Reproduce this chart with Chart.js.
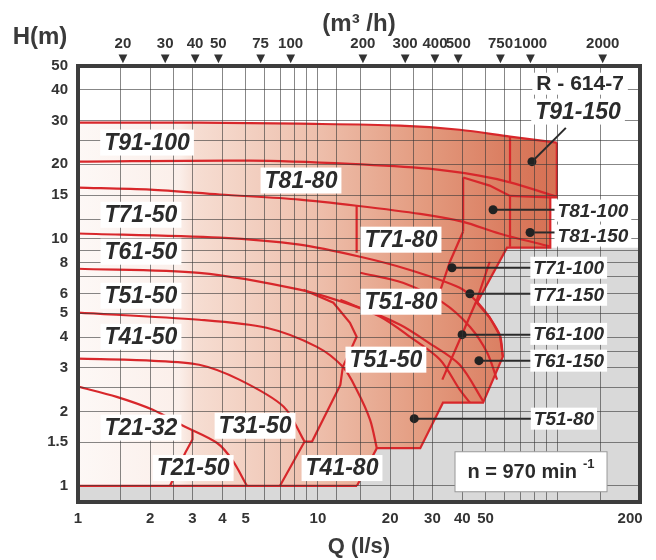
<!DOCTYPE html>
<html>
<head>
<meta charset="utf-8">
<script src="https://cdn.jsdelivr.net/npm/chart.js@4.4.1/dist/chart.umd.min.js"></script>
<style>
  html, body { margin: 0; padding: 0; background: #fff; }
  #wrap { width: 656px; height: 560px; }
</style>
</head>
<body>
<div id="wrap"><canvas id="myChart"></canvas></div>
<script>
// axes
const qTicks = [1, 1.5, 2, 2.5, 3, 4, 5, 6, 7, 8, 9, 10, 12, 15, 20, 25, 30, 40, 50, 60, 70, 80, 90, 100, 150, 200];
const qLabels = [1, 2, 3, 4, 5, 10, 20, 30, 40, 50, 200];
const hTicks = [1, 1.5, 2, 2.5, 3, 3.5, 4, 5, 6, 7, 8, 9, 10, 12, 15, 20, 25, 30, 40, 50];
const hLabels = [1, 1.5, 2, 3, 4, 5, 6, 8, 10, 15, 20, 30, 40, 50];
const m3hTicks = [20, 30, 40, 50, 75, 100, 200, 300, 400, 500, 750, 1000, 2000];

// pump curves, [Q l/s, H m]
const curve29 = [[1, 29.5], [3.2, 29.5], [8.4, 29.2], [22, 28.7], [39, 27.6], [63.2, 25.9], [99, 24.5]];
const curve20 = [[1, 20.5], [5.2, 20.7], [13.6, 20.1], [29, 19.2], [47, 18.0], [63.2, 16.9], [99, 14.8]];
const curve16 = [[1, 16.1], [2, 15.8], [3.9, 15.1], [8.4, 14.4], [14.5, 13.6], [26.7, 12.6], [40.3, 11.7], [57, 10.5], [93, 9.3]];
const curve10 = [[1, 10.5], [3.9, 10.1], [8.4, 9.46], [15, 8.45], [24, 7.49], [39, 6.33], [46, 5.56], [52, 4.79], [57.4, 4.05], [59, 3.33]];
const curve7 = [[1, 7.56], [3.2, 7.28], [8.4, 6.22], [14.5, 5.3], [22, 4.49], [29, 3.79], [39, 3.09], [48.8, 2.2]];
const curve5 = [[1, 5.02], [3.2, 4.7], [6.1, 4.36], [9.9, 3.65], [12.7, 3.03], [14.5, 2.45], [16.5, 1.85], [17.6, 1.42]];
const curve3 = [[1, 3.27], [2, 3.21], [3.2, 3.09], [4.7, 2.69], [7.2, 2.09], [8.8, 1.51]];
const curve25 = [[1, 2.52], [1.45, 2.29], [2.05, 2.03], [2.74, 1.75], [3.8, 1.49], [4.4, 1.27], [5.06, 1.0]];
const curve1 = [[1, 1], [14.55, 1]];
const arcA = [[15, 7.28], [22.6, 6.63], [33.2, 5.51], [43, 4.4], [50.7, 3.46], [55.8, 2.69]];
const arcB = [[12.4, 5.66], [18.2, 4.83], [24.2, 4.01], [32.3, 3.24], [39, 2.45], [43, 2.17]];

// tile limits
const edge91 = [[63.2, 25.9], [63.2, 16.9]];
const edge81a = [[40.3, 17.7], [40.3, 10.7]];
const edge81top = [[40.3, 17.7], [52, 16.4], [63.2, 14.9], [93, 14.7]];
const edge81b = [[63.2, 14.9], [63.2, 9.28]];
const edge71a = [[14.5, 13.6], [14.5, 8.78]];
const edge71b = [[40.3, 10.7], [35.5, 8.07], [31.4, 5.66]];
const edge71c = [[52, 8.07], [46, 5.66], [39, 3.9], [33, 2.69]];
const edge51 = [[8.7, 6.22], [11.6, 5.51], [13.6, 4.57], [14.5, 4.01], [12.7, 3.03]];
const edge41 = [[6.95, 1], [8.8, 1.51], [9.45, 1.51], [12.4, 2.56], [12.7, 3.03]];
const edge21 = [[3.0, 1.67], [3.0, 1.54], [2.8, 1.36], [2.42, 1]];
const envelopeRight = [[99, 24.5], [99, 14.7], [93, 14.7], [93, 9.2], [61.4, 9.2], [46, 5.5], [52, 4.8],
  [57.4, 4.05], [59, 3.33], [48.8, 2.17], [33.2, 2.17], [26.7, 1.42], [17.6, 1.42], [14.55, 1]];

// labels
const bigLabels = ['T91-100', 'T81-80', 'T71-50', 'T61-50', 'T51-50', 'T41-50', 'T21-32', 'T31-50', 'T21-50', 'T41-80', 'T71-80', 'T51-80', 'T51-50', 'T91-150'];
const bigLabelQ = [1.94, 8.5, 1.83, 1.83, 1.83, 1.83, 1.83, 5.47, 3.02, 12.6, 22.2, 22.2, 19.2, 121.4];
const bigLabelH = [24.5, 17.2, 12.5, 8.86, 5.88, 4.01, 1.72, 1.75, 1.18, 1.18, 9.91, 5.56, 3.24, 32.7];
const sideLabels = ['T81-100', 'T81-150', 'T71-100', 'T71-150', 'T61-100', 'T61-150', 'T51-80'];
const sideLabelQ = [140, 140, 111, 111, 111, 111, 106];
const sideLabelH = [13.0, 10.3, 7.63, 5.93, 4.12, 3.21, 1.87];
const dotQ = [78, 53.7, 76.6, 36.2, 43, 39.9, 46.9, 25.2];
const dotH = [20.5, 13.1, 10.6, 7.63, 5.99, 4.09, 3.21, 1.87];
const leaderQ = [108, 100, 100, 79, 79, 79, 79, 79];
const leaderH = [28.1, 13.1, 10.6, 7.63, 5.99, 4.09, 3.21, 1.87];
const codeLabel = ['R - 614-7', 123.8, 42.4];
const speedLabel = ['n = 970 min', '-1', 77.3, 1.14];

const RED = '#d8272b';
const FONT = '"Liberation Sans", Arial, sans-serif';
const toPts = arr => arr.map(p => ({x: p[0], y: p[1]}));

const envelope = [...curve29.slice(0, -1), ...envelopeRight, [1, 1]];
const grayZone = [[220, 9.2], ...envelopeRight.slice(3), [1, 1], [1, 0.86], [220, 0.86]];

function envelopeFill(ctx) {
  const a = ctx.chart.chartArea;
  if (!a) return '#eebba8';
  const g = ctx.chart.ctx.createLinearGradient(a.left, 0, a.right, 0);
  g.addColorStop(0, '#fdf8f6');
  g.addColorStop(0.18, '#fbefea');
  g.addColorStop(0.21, '#f6ddd2');
  g.addColorStop(0.42, '#eec0ad');
  g.addColorStop(0.62, '#e39a7e');
  g.addColorStop(0.8, '#d87659');
  g.addColorStop(1, '#d26448');
  return g;
}

const curves = [curve29, curve20, curve16, curve10, curve7, curve5, curve3, curve25, arcA, arcB];
const edges = [curve1, edge91, edge81a, edge81top, edge81b, edge71a, edge71b, edge71c, edge51, edge41, edge21, envelopeRight];

const datasets = [
  { data: toPts(grayZone), fill: 'shape', backgroundColor: '#d9d9d9', borderWidth: 0, pointRadius: 0, order: 10 },
  { data: toPts(envelope), fill: 'shape', backgroundColor: envelopeFill, borderWidth: 0, pointRadius: 0, order: 9 }
];
curves.forEach(c => datasets.push({ data: toPts(c), borderColor: RED, borderWidth: 2.2, pointRadius: 0, fill: false, tension: 0.3, order: 5 }));
edges.forEach(c => datasets.push({ data: toPts(c), borderColor: RED, borderWidth: 2.2, pointRadius: 0, fill: false, tension: 0, order: 5 }));
dotQ.forEach((q, i) => datasets.push({
  data: [{x: q, y: dotH[i]}, {x: leaderQ[i], y: leaderH[i]}],
  borderColor: '#2a2a2a', borderWidth: 2, pointRadius: 0, fill: false, order: 2
}));
datasets.push({
  data: dotQ.map((q, i) => ({x: q, y: dotH[i]})), showLine: false,
  pointRadius: 4.5, pointBackgroundColor: '#222', pointBorderWidth: 0, order: 1
});

function boxText(ctx, text, cx, cy, font, padX, boxH) {
  ctx.font = font;
  const w = ctx.measureText(text).width;
  ctx.fillStyle = '#fff';
  ctx.fillRect(cx - w / 2 - padX, cy - boxH / 2, w + 2 * padX, boxH);
  ctx.fillStyle = '#2b2b2b';
  ctx.fillText(text, cx, cy + 1);
}

const labelPlugin = {
  id: 'tileLabels',
  afterDraw(chart) {
    const {ctx, chartArea: a, scales: {x, y}} = chart;
    ctx.save();
    // frame
    ctx.strokeStyle = '#3d3d3d';
    ctx.lineWidth = 4;
    ctx.strokeRect(a.left, a.top, a.right - a.left, a.bottom - a.top);

    ctx.textAlign = 'center';
    ctx.textBaseline = 'middle';
    bigLabels.forEach((t, i) => {
      boxText(ctx, t, x.getPixelForValue(bigLabelQ[i]), y.getPixelForValue(bigLabelH[i]), 'italic bold 23px ' + FONT, 4, 26);
    });
    sideLabels.forEach((t, i) => {
      boxText(ctx, t, x.getPixelForValue(sideLabelQ[i]), y.getPixelForValue(sideLabelH[i]), 'italic bold 19px ' + FONT, 3, 22);
    });
    boxText(ctx, codeLabel[0], x.getPixelForValue(codeLabel[1]), y.getPixelForValue(codeLabel[2]), 'bold 21px ' + FONT, 4, 22);

    // speed note
    const sx = x.getPixelForValue(speedLabel[2]);
    const sy = y.getPixelForValue(speedLabel[3]);
    ctx.font = 'bold 20px ' + FONT;
    const w1 = ctx.measureText(speedLabel[0]).width;
    ctx.font = 'bold 13px ' + FONT;
    const w2 = ctx.measureText(speedLabel[1]).width;
    const tw = w1 + 6 + w2;
    ctx.fillStyle = '#fff';
    ctx.fillRect(sx - 76, sy - 20, 152, 40);
    ctx.strokeStyle = '#999';
    ctx.lineWidth = 1;
    ctx.strokeRect(sx - 76, sy - 20, 152, 40);
    ctx.fillStyle = '#2b2b2b';
    ctx.textAlign = 'left';
    ctx.font = 'bold 20px ' + FONT;
    ctx.fillText(speedLabel[0], sx - tw / 2, sy + 1);
    ctx.font = 'bold 13px ' + FONT;
    ctx.fillText(speedLabel[1], sx - tw / 2 + w1 + 6, sy - 7);

    // y axis name
    ctx.font = 'bold 24px ' + FONT;
    ctx.fillStyle = '#3a3a3a';
    ctx.textAlign = 'center';
    ctx.fillText('H(m)', 40, 37);
    ctx.restore();
  }
};

const tickFont = { family: FONT, weight: 'bold', size: 15 };
const gridColor = 'rgba(55,55,55,0.6)';

const config = {
  type: 'line',
  data: { datasets: datasets },
  options: {
    responsive: true,
    maintainAspectRatio: false,
    animation: false,
    events: [],
    layout: { padding: { left: 0, right: 16, top: 0, bottom: 0 } },
    plugins: { legend: { display: false }, tooltip: { enabled: false } },
    scales: {
      x: {
        type: 'logarithmic', position: 'bottom', min: 1, max: 220,
        afterBuildTicks: s => { s.ticks = qTicks.map(v => ({ value: v })); },
        afterFit: s => { s.height = 58; },
        grid: { z: 1, color: c => (c.tick && c.tick.value === 200) ? 'rgba(0,0,0,0)' : gridColor, lineWidth: 1, drawTicks: false },
        border: { display: false },
        ticks: { autoSkip: false, maxRotation: 0, padding: 8, color: '#333', font: tickFont,
          callback: v => qLabels.includes(v) ? String(v) : '' },
        title: { display: true, text: 'Q (l/s)', color: '#3a3a3a', font: { family: FONT, weight: 'bold', size: 22 }, padding: { top: 0, bottom: 0 } }
      },
      xTop: {
        type: 'logarithmic', position: 'top', min: 13, max: 2860,
        afterBuildTicks: s => { s.ticks = m3hTicks.map(v => ({ value: v })); },
        afterFit: s => { s.height = 66; },
        grid: { display: false, drawTicks: false },
        border: { display: false },
        ticks: { autoSkip: false, maxRotation: 0, padding: 0, color: '#333', font: { family: FONT, weight: 'bold', size: 15, lineHeight: 1 },
          callback: v => [String(v), '\u25BC'] },
        title: { display: true, text: '(m\u00B3 /h)', color: '#3a3a3a', font: { family: FONT, weight: 'bold', size: 24 }, padding: { top: 10, bottom: 0 } }
      },
      y: {
        type: 'logarithmic', min: 0.86, max: 50,
        afterBuildTicks: s => { s.ticks = hTicks.map(v => ({ value: v })); },
        afterFit: s => { s.width = 78; },
        grid: { z: 1, color: gridColor, lineWidth: 1, drawTicks: false },
        border: { display: false },
        ticks: { autoSkip: false, padding: 10, color: '#333', font: tickFont,
          callback: v => hLabels.includes(v) ? String(v) : '' }
      }
    }
  },
  plugins: [labelPlugin]
};

const myChart = new Chart(document.getElementById('myChart'), config);
</script>
</body>
</html>
